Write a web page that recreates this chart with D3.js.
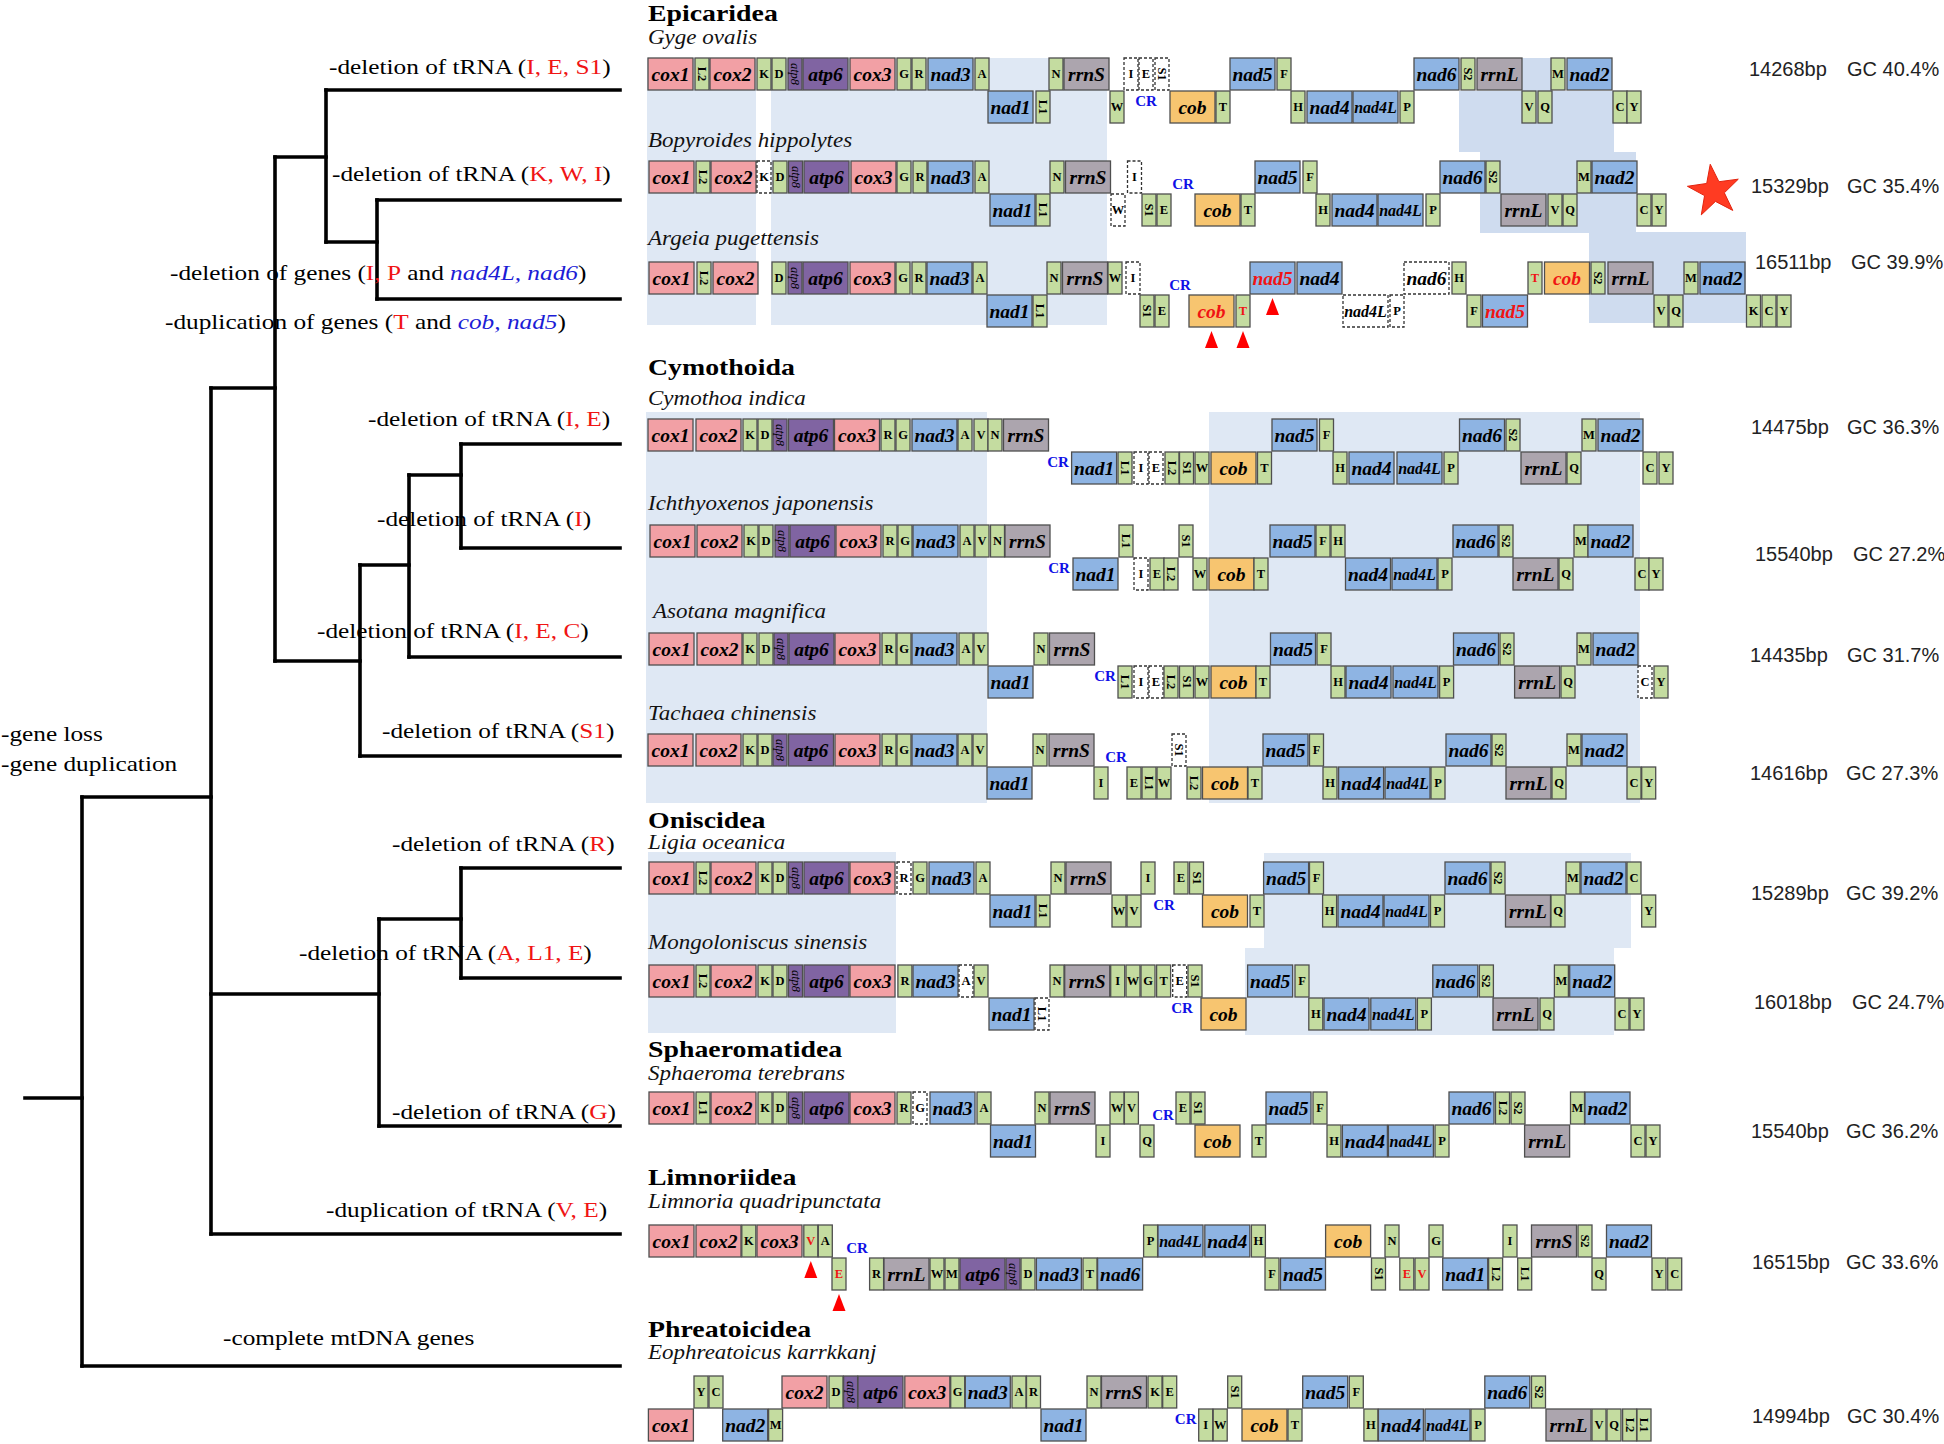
<!DOCTYPE html>
<html>
<head>
<meta charset="utf-8">
<script src="https://cdn.jsdelivr.net/npm/d3@7"></script>
<style>
  body { margin: 0; background: #fff; }
  svg { display: block; }
</style>
</head>
<body>
<svg id="chart" width="1944" height="1444"></svg>
<script>
// ---- data -------------------------------------------------------------
// species shown in the gene order map, top to bottom
var species = ["Gyge ovalis", "Bopyroides hippolytes", "Argeia pugettensis",
  "Cymothoa indica", "Ichthyoxenos japonensis", "Asotana magnifica", "Tachaea chinensis",
  "Ligia oceanica", "Mongoloniscus sinensis", "Sphaeroma terebrans",
  "Limnoria quadripunctata", "Eophreatoicus karrkkanj"];
// suborder heading and index of the first species under it
var groups = [["Epicaridea", 0], ["Cymothoida", 3], ["Oniscidea", 7],
  ["Sphaeromatidea", 9], ["Limnoriidea", 10], ["Phreatoicidea", 11]];
var genomeSize = ["14268bp", "15329bp", "16511bp", "14475bp", "15540bp", "14435bp",
  "14616bp", "15289bp", "16018bp", "15540bp", "16515bp", "14994bp"];
var gcContent = ["GC 40.4%", "GC 35.4%", "GC 39.9%", "GC 36.3%", "GC 27.2%", "GC 31.7%",
  "GC 27.3%", "GC 39.2%", "GC 24.7%", "GC 36.2%", "GC 33.6%", "GC 30.4%"];

// genes: [name, start on the map axis, flags]  d = missing (dashed), r = red, m = arrow mark
var gyTop = [["cox1",1],["L2",48],["cox2",63],["K",110],["D",125],["atp8",141],["atp6",156],["cox3",203],["G",250],["R",265],["nad3",281],["A",328],["N",402],["rrnS",417],["I",477,"d"],["E",492,"d"],["S1",508,"d"],["nad5",583],["F",630],["nad6",767],["S2",814],["rrnL",830],["M",904],["nad2",920]];
var gyBot = [["nad1",341],["L1",389],["W",463],["CR",499],["cob",523],["T",569],["H",644],["nad4",660],["nad4L",706],["P",753],["V",875],["Q",891],["C",966],["Y",980]];

var boTop = [["cox1",2],["L2",49],["cox2",64],["K",110,"d"],["D",126],["atp8",141.5],["atp6",157],["cox3",204],["G",250],["R",266],["nad3",281],["A",328],["N",403],["rrnS",418.5],["I",480.5,"d"],["CR",536],["nad5",608],["F",656],["nad6",793],["S2",839],["M",930],["nad2",945]];
var boBot = [["nad1",343],["L1",389],["W",464,"d"],["S1",495],["E",510],["cob",548],["T",594],["H",669],["nad4",685],["nad4L",731],["P",779],["rrnL",854],["V",901],["Q",916],["C",990],["Y",1005]];

var arTop = [["cox1",2],["L2",50],["cox2",66],["D",125],["atp8",141],["atp6",156],["cox3",203],["G",249],["R",265],["nad3",280],["A",326],["N",400],["rrnS",415.5],["W",461],["I",479,"d"],["CR",533],["nad5",603,"rm"],["nad4",650],["nad6",757,"d"],["H",805],["T",881,"r"],["cob",897.5,"r"],["S2",944],["rrnL",961],["M",1037],["nad2",1053]];
var arBot = [["nad1",340],["L1",386],["S1",493],["E",508],["cob",542,"rm"],["T",589,"rm"],["nad4L",696,"d"],["P",743,"d"],["F",820],["nad5",835.5,"r"],["V",1007],["Q",1022],["K",1099.5],["C",1115],["Y",1130]];

var cyTop = [["cox1",1],["cox2",49],["K",96],["D",111],["atp8",126],["atp6",141.5],["cox3",187.5],["R",234],["G",249],["nad3",265],["A",311],["V",327],["N",341],["rrnS",356.5],["nad5",625],["F",672.5],["nad6",812.5],["S2",859],["M",935],["nad2",951]];
var cyBot = [["CR",411],["nad1",424.6],["L1",471],["I",487,"d"],["E",502,"d"],["L2",518],["S1",532.5],["W",548],["cob",564],["T",610.5],["H",686],["nad4",702],["nad4L",750],["P",797],["rrnL",874],["Q",920],["C",996],["Y",1012]];

var icTop = [["cox1",3],["cox2",50],["K",97],["D",112],["atp8",128],["atp6",143],["cox3",189],["R",236],["G",251],["nad3",266],["A",313],["V",328],["N",343.5],["rrnS",358],["L1",472],["S1",532],["nad5",623],["F",669],["H",684],["nad6",806],["S2",852],["M",927],["nad2",941]];
var icBot = [["CR",412],["nad1",426],["I",487,"d"],["E",503],["L2",517],["W",546],["cob",562],["T",607],["nad4",698.5],["nad4L",745],["P",791],["rrnL",866],["Q",912],["C",988],["Y",1002]];

var asTop = [["cox1",2],["cox2",50],["K",96],["D",112],["atp8",127],["atp6",142],["cox3",188],["R",235],["G",250],["nad3",265],["A",312],["V",327],["N",387],["rrnS",402.5],["nad5",623.5],["F",670],["nad6",806.5],["S2",853],["M",930],["nad2",946]];
var asBot = [["nad1",341],["CR",458],["L1",471],["I",487,"d"],["E",502,"d"],["L2",517],["S1",532.5],["W",548],["cob",564],["T",609],["H",684],["nad4",699],["nad4L",746],["P",792.6],["rrnL",867.6],["Q",914],["C",991,"d"],["Y",1007]];

var taTop = [["cox1",1],["cox2",49],["K",96],["D",111],["atp8",126],["atp6",141.5],["cox3",188],["R",235],["G",250],["nad3",265],["A",311],["V",326],["N",386],["rrnS",402],["CR",469],["S1",525,"d"],["nad5",616],["F",662.5],["nad6",799],["S2",845],["M",920],["nad2",935]];
var taBot = [["nad1",340],["I",447],["E",480],["L1",495],["W",510],["L2",540],["cob",555.5],["T",601],["H",676],["nad4",691.6],["nad4L",738],["P",784],["rrnL",859],["Q",905],["C",980],["Y",994.7]];

var liTop = [["cox1",2],["L2",49],["cox2",64],["K",111],["D",126],["atp8",141.5],["atp6",157],["cox3",203],["R",250,"d"],["G",266],["nad3",282],["A",329],["N",404],["rrnS",419],["I",494],["E",527],["S1",542.5],["nad5",616.6],["F",662.5],["nad6",798],["S2",844],["M",919],["nad2",934],["C",980]];
var liBot = [["nad1",343],["L1",389],["W",465],["V",480],["CR",517],["cob",555.5],["T",603],["H",675.6],["nad4",691],["nad4L",737],["P",783.5],["rrnL",858.5],["Q",904],["Y",994.7]];

var moTop = [["cox1",2],["L2",49],["cox2",64],["K",111],["D",126],["atp8",141.5],["atp6",157],["cox3",203],["R",250.9],["nad3",266],["A",312,"d"],["V",327],["N",403],["rrnS",417.7],["I",463.7],["W",479],["G",494],["T",509.6],["E",525.7,"d"],["S1",541],["nad5",600.6],["F",648],["nad6",785.8],["S2",832.4],["M",907.4],["nad2",922.7]];
var moBot = [["nad1",342],["L1",388,"d"],["CR",535],["cob",554],["H",661.8],["nad4",677],["nad4L",723.8],["P",770.4],["rrnL",846],["Q",893],["C",968],["Y",983]];

var spTop = [["cox1",2],["L1",49],["cox2",64],["K",111],["D",126],["atp8",141.5],["atp6",157],["cox3",203],["R",250],["G",266,"d"],["nad3",283],["A",330],["N",388],["rrnS",403],["W",463],["V",477.4],["CR",516],["E",529],["S1",544],["nad5",619],["F",666],["nad6",802],["L2",848.5],["S2",864],["M",923.5],["nad2",938]];
var spBot = [["nad1",343.5],["I",449],["Q",493],["cob",548],["T",605],["H",680],["nad4",695.4],["nad4L",741.4],["P",788],["rrnL",877.6],["C",984],["Y",999]];

var lmTop = [["cox1",2],["cox2",49],["K",94.8],["cox3",110],["V",156.8,"rm"],["A",171.3],["CR",210],["P",496.6],["nad4L",511],["nad4",557.8],["H",604.4],["cob",678.6],["N",738],["G",782],["I",856],["rrnS",884.5],["S2",931],["nad2",959.5]];
var lmBot = [["E",185,"rm"],["R",222.6],["rrnL",237],["W",283],["M",298],["atp6",313],["atp8",359],["D",374],["nad3",389.4],["T",436],["nad6",450.6],["F",618],["nad5",633.5],["S1",724.5],["E",752.8,"r"],["V",768,"r"],["nad1",795.7],["L2",841.6],["L1",870.7],["Q",945],["Y",1005],["C",1020.7]];

var epTop = [["Y",47],["C",62],["cox2",135],["D",182],["atp8",196.6],["atp6",211],["cox3",257.8],["G",303.7],["nad3",318.3],["A",365],["R",379.5],["N",440],["rrnS",454.5],["K",501],["E",515.7],["S1",580.7],["nad5",655.7],["F",702.3],["nad6",837.8],["S2",884.5]];
var epBot = [["cox1",1.4],["nad2",75.7],["M",121.6],["nad1",394],["CR",538.7],["I",551.7],["W",566.2],["cob",595],["T",641],["H",716.9],["nad4",731.4],["nad4L",778],["P",824],["rrnL",899],["V",945],["Q",960],["L2",975.6],["L1",990]];

var genomes = [[gyTop, gyBot], [boTop, boBot], [arTop, arBot], [cyTop, cyBot], [icTop, icBot],
  [asTop, asBot], [taTop, taBot], [liTop, liBot], [moTop, moBot], [spTop, spBot],
  [lmTop, lmBot], [epTop, epBot]];

// phylogeny (leaf = species index) and the events written on its branches
var treeData = {id: "root", children: [
  {id: "n1", children: [
    {id: "n2", children: [
      {id: "n3", children: [{leaf: 0}, {id: "n4", children: [{leaf: 1}, {leaf: 2}]}]},
      {id: "n5", children: [
        {id: "n6", children: [{id: "n7", children: [{leaf: 3}, {leaf: 4}]}, {leaf: 5}]},
        {leaf: 6}]}
    ]},
    {id: "n8", children: [{id: "n9", children: [{leaf: 7}, {leaf: 8}]}, {leaf: 9}]},
    {leaf: 10}
  ]},
  {leaf: 11}
]};
// text parts: 0 plain, 1 red, 2 blue italic
var treeLabels = [
  [["-deletion of tRNA (",0],["I, E, S1",1],[")",0]],
  [["-deletion of tRNA (",0],["K, W, I",1],[")",0]],
  [["-deletion of genes (",0],["I, P",1],[" and ",0],["nad4L, nad6",2],[")",0]],
  [["-duplication of genes (",0],["T",1],[" and ",0],["cob, nad5",2],[")",0]],
  [["-deletion of tRNA (",0],["I, E",1],[")",0]],
  [["-deletion of tRNA (",0],["I",1],[")",0]],
  [["-deletion of tRNA (",0],["I, E, C",1],[")",0]],
  [["-deletion of tRNA (",0],["S1",1],[")",0]],
  [["-gene loss",0]],
  [["-gene duplication",0]],
  [["-deletion of tRNA (",0],["R",1],[")",0]],
  [["-deletion of tRNA (",0],["A, L1, E",1],[")",0]],
  [["-deletion of tRNA (",0],["G",1],[")",0]],
  [["-duplication of tRNA (",0],["V, E",1],[")",0]],
  [["-complete mtDNA genes",0]]
];

// ---- layout -----------------------------------------------------------
var rowTop = [58, 161, 262, 419, 525, 633, 734, 862, 965, 1092, 1225, 1376];
var nameY = [44, 147, 245, 405, 510, 618, 720, 849, 949, 1080, 1208, 1359];
var groupY = [21, 375, 828, 1057, 1185, 1337];
var infoY = [69, 186, 262, 427, 554, 655, 773, 893, 1002, 1131, 1262, 1416];
var bpX = [1749, 1751, 1755, 1751, 1755, 1750, 1750, 1751, 1754, 1751, 1752, 1752];
var gcX = [1847, 1847, 1851, 1847, 1853, 1847, 1846, 1846, 1852, 1846, 1846, 1847];
var nodeX = {root: 82, n1: 211, n2: 275, n3: 326, n4: 377, n5: 360, n6: 409, n7: 461, n8: 379, n9: 461};
var nodeY = {root: 1098, n1: 797, n2: 388, n3: 157, n4: 242, n5: 661, n6: 565, n7: 475, n8: 994, n9: 919};
var leafY = [90, 200, 299, 444, 548, 657, 756, 868, 978, 1126, 1234, 1366];
var leafEnd = 620, rootStart = 25;
var treeLabelPos = [[329,67],[332,174],[170,273],[165,322],[368,419],[377,519],[317,631],[382,731],
  [1,734],[1,764],[392,844],[299,953],[392,1112],[326,1210],[223,1338]];
// conserved blocks: [x0, x1, y0, y1, darker]
var shadeBlocks = [
  [0,109,58,325,0],[124,460,58,325,0],
  [875,904,58,91,1],[812,967,91,152,1],[833,989,152,233,1],[942,1099,232,323,1],
  [-1,340,412,803,0],[562,993,412,803,0],
  [1,249,852,1033,0],[617,984,853,948,0],[598,967,948,1035,0]
];

var SERIF = "'Liberation Serif','Times New Roman',serif";
var SANS = "'Liberation Sans',Arial,sans-serif";
var SX = 1.15;  // the figure's serif text is a bit stretched sideways
var BIG = 45, SMALL = 14, BOX_H = 32, ROW_GAP = 33;
var RED = "#f01414", BLUE = "#1c1cd6";
var fills = {cox: "#f2a0a5", nad: "#8eb4e3", atp: "#8064a2", atp8: "#8064a2",
  rrn: "#aca5ae", cob: "#f7c570", trna: "#c4dca0"};

var svg = d3.select("#chart");
var mapX = d3.scaleLinear().domain([0, 1160]).range([647, 1807]);

function geneType(n) {
  if (n === "CR") return "cr";
  if (/^cox/.test(n)) return "cox";
  if (/^nad/.test(n)) return "nad";
  if (n === "atp8") return "atp8";
  if (/^atp/.test(n)) return "atp";
  if (/^rrn/.test(n)) return "rrn";
  if (n === "cob") return "cob";
  return "trna";
}
function geneWidth(n) {
  var t = geneType(n);
  return (t === "trna" || t === "atp8") ? SMALL : BIG;
}
function has(d, f) { return (d[2] || "").indexOf(f) >= 0; }

// shading
svg.append("g").selectAll("rect").data(shadeBlocks).enter().append("rect")
  .attr("x", function(d) { return mapX(d[0]); })
  .attr("width", function(d) { return mapX(d[1]) - mapX(d[0]); })
  .attr("y", function(d) { return d[2]; })
  .attr("height", function(d) { return d[3] - d[2]; })
  .attr("fill", function(d) { return d[4] ? "#cfdcef" : "#dfe8f4"; });

// tree
var root = d3.hierarchy(treeData);
function px(n) { return n.data.leaf !== undefined ? leafEnd : nodeX[n.data.id]; }
function py(n) { return n.data.leaf !== undefined ? leafY[n.data.leaf] : nodeY[n.data.id]; }
var treeG = svg.append("g").attr("fill", "none").attr("stroke", "#000")
  .attr("stroke-width", 3.6).attr("stroke-linecap", "square");
treeG.selectAll(".h").data(root.links()).enter().append("path")
  .attr("d", function(l) { return "M" + nodeX[l.source.data.id] + "," + py(l.target) + "H" + px(l.target); });
treeG.selectAll(".v").data(root.descendants().filter(function(n) { return n.children; }))
  .enter().append("path")
  .attr("d", function(n) {
    var ys = n.children.map(py);
    return "M" + nodeX[n.data.id] + "," + d3.min(ys) + "V" + d3.max(ys);
  });
treeG.append("path").attr("d", "M" + rootStart + "," + nodeY.root + "H" + nodeX.root);

// tree labels
treeLabels.forEach(function(parts, i) {
  var t = svg.append("text")
    .attr("transform", "translate(" + treeLabelPos[i][0] + "," + treeLabelPos[i][1] + ") scale(" + SX + ",1)")
    .attr("dominant-baseline", "central")
    .style("font-family", SERIF).style("font-size", "22px");
  t.selectAll("tspan").data(parts).enter().append("tspan")
    .attr("fill", function(p) { return p[1] === 1 ? RED : p[1] === 2 ? BLUE : "#000"; })
    .style("font-style", function(p) { return p[1] === 2 ? "italic" : "normal"; })
    .text(function(p) { return p[0]; });
});

// group headings and species names
svg.selectAll(".grp").data(groups).enter().append("text")
  .attr("transform", function(d, i) { return "translate(648," + groupY[i] + ") scale(" + (SX + 0.06) + ",1)"; })
  .style("font-family", SERIF).style("font-weight", "bold").style("font-size", "23px")
  .text(function(d) { return d[0]; });
svg.selectAll(".sp").data(species).enter().append("text")
  .attr("transform", function(d, i) { return "translate(" + (i === 5 ? 653 : 648) + "," + nameY[i] + ") scale(" + SX + ",1)"; })
  .style("font-family", SERIF).style("font-style", "italic").style("font-size", "20px")
  .attr("fill", "#111")
  .text(function(d) { return d; });

// gene boxes
var mapG = svg.append("g");
genomes.forEach(function(g, si) {
  [0, 1].forEach(function(strand) {
    var y0 = rowTop[si] + strand * ROW_GAP;
    var genes = g[strand].filter(function(d) { return d[0] !== "CR"; });
    var cr = g[strand].filter(function(d) { return d[0] === "CR"; });
    var box = mapG.append("g").selectAll("g").data(genes).enter().append("g");
    box.append("rect")
      .attr("x", function(d) { return mapX(d[1]); })
      .attr("y", y0)
      .attr("width", function(d) { return mapX(d[1] + geneWidth(d[0])) - mapX(d[1]); })
      .attr("height", BOX_H)
      .attr("fill", function(d) { return has(d, "d") ? "#fff" : fills[geneType(d[0])]; })
      .attr("stroke", function(d) { return has(d, "d") ? "#333" : "#4f4f4f"; })
      .attr("stroke-width", 1.3)
      .attr("stroke-dasharray", function(d) { return has(d, "d") ? "3,2" : null; });
    box.append("text")
      .attr("transform", function(d) {
        var t = geneType(d[0]);
        var cx = mapX(d[1] + geneWidth(d[0]) / 2), cy = y0 + BOX_H / 2;
        var rot = (t === "atp8" || (t === "trna" && d[0].length > 1)) ? " rotate(90)" : "";
        return "translate(" + cx + "," + cy + ")" + rot;
      })
      .attr("text-anchor", "middle").attr("dominant-baseline", "central")
      .attr("fill", function(d) { return has(d, "r") ? RED : "#000"; })
      .style("font-family", SERIF)
      .style("font-weight", function(d) { return geneType(d[0]) === "atp8" ? "normal" : "bold"; })
      .style("font-style", function(d) { var t = geneType(d[0]); return t === "trna" ? "normal" : "italic"; })
      .style("font-size", function(d) {
        var t = geneType(d[0]);
        if (t === "trna") return "12.5px";
        if (t === "atp8") return "12.5px";
        return d[0].length > 4 ? "16px" : "19.5px";
      })
      .text(function(d) { return d[0]; });

    mapG.selectAll(null).data(cr).enter().append("text")
      .attr("x", function(d) { return mapX(d[1]); })
      .attr("y", rowTop[si] + (strand ? 43 : 23))
      .attr("text-anchor", "middle").attr("dominant-baseline", "central")
      .attr("fill", "#1010e6")
      .style("font-family", SERIF).style("font-weight", "bold").style("font-size", "15px")
      .text("CR");

    // red arrow heads under rearranged genes
    mapG.selectAll(null).data(genes.filter(function(d) { return has(d, "m"); })).enter().append("path")
      .attr("fill", "#ff0000")
      .attr("d", function(d) {
        var cx = mapX(d[1] + geneWidth(d[0]) / 2), top = y0 + BOX_H + 4;
        return "M" + cx + "," + top + "L" + (cx + 6.5) + "," + (top + 17) + "L" + (cx - 6.5) + "," + (top + 17) + "Z";
      });
  });
});

// star next to Bopyroides hippolytes
var starPts = d3.range(10).map(function(i) {
  var a = (-90 - 8 + i * 36) * Math.PI / 180, r = i % 2 ? 10.5 : 27;
  return [1714 + r * Math.cos(a), 191 + r * Math.sin(a)];
});
svg.append("path").attr("d", d3.line()(starPts) + "Z")
  .attr("fill", "#ff3b22").attr("stroke", "#e2230e").attr("stroke-width", 1);

// genome size and GC content
svg.selectAll(".bp").data(genomeSize).enter().append("text")
  .attr("x", function(d, i) { return bpX[i]; }).attr("y", function(d, i) { return infoY[i]; })
  .attr("dominant-baseline", "central").attr("fill", "#222")
  .style("font-family", SANS).style("font-size", "20px")
  .text(function(d) { return d; });
svg.selectAll(".gc").data(gcContent).enter().append("text")
  .attr("x", function(d, i) { return gcX[i]; }).attr("y", function(d, i) { return infoY[i]; })
  .attr("dominant-baseline", "central").attr("fill", "#222")
  .style("font-family", SANS).style("font-size", "20px")
  .text(function(d) { return d; });
</script>
</body>
</html>
